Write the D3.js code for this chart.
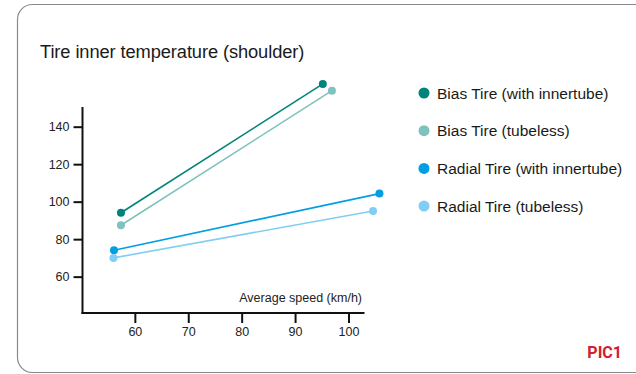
<!DOCTYPE html>
<html>
<head>
<meta charset="utf-8">
<script src="https://cdn.jsdelivr.net/npm/d3@7"></script>
<style>
  body { margin: 0; background: #fff; }
  svg { display: block; font-family: "Liberation Sans", Arial, sans-serif; }
</style>
</head>
<body>
<div id="chart"></div>
<script>

// series names and colours
var seriesNames = ["Bias Tire (with innertube)", "Bias Tire (tubeless)", "Radial Tire (with innertube)", "Radial Tire (tubeless)"]
var seriesColors = ["#00837a", "#80c2bd", "#009fe3", "#80cef3"]

// speed (km/h) at the two measured points, per series
var speedValues = [
    [57.4, 95.2],
    [57.4, 96.9],
    [56.1, 105.8],
    [56.0, 104.6]
]
// inner temperature at the same points
var tempValues = [
    [94.1, 162.8],
    [87.4, 159.2],
    [74.1, 104.3],
    [70.0, 95.0]
]

var xTicks = [60, 70, 80, 90, 100]
var yTicks = [60, 80, 100, 120, 140]

var W = 636, H = 374

var svg = d3.select("#chart")
    .append("svg")
    .attr("width", W)
    .attr("height", H)

// card frame
svg.append("rect")
    .attr("x", 17.5)
    .attr("y", 4.5)
    .attr("width", 660)
    .attr("height", 368)
    .attr("rx", 15)
    .attr("fill", "none")
    .attr("stroke", "#8a8a8a")
    .attr("stroke-width", 1.2)

svg.append("text")
    .attr("x", 40)
    .attr("y", 58)
    .attr("font-size", 18.3)
    .attr("letter-spacing", -0.1)
    .attr("fill", "#1a1a1a")
    .text("Tire inner temperature (shoulder)")

var plotLeft = 82.5, plotRight = 364.5, plotTop = 107, plotBottom = 313

var x = d3.scaleLinear()
    .domain([50.2, 103])
    .range([plotLeft, plotRight])

var y = d3.scaleLinear()
    .domain([40.6, 150.5])
    .range([plotBottom, plotTop])

var xAxis = d3.axisBottom(x)
    .tickValues(xTicks)
    .tickSize(10)
    .tickSizeOuter(0)
    .tickPadding(4)

var yAxis = d3.axisLeft(y)
    .tickValues(yTicks)
    .tickSize(9)
    .tickSizeOuter(0)
    .tickPadding(4)

var gx = svg.append("g")
    .attr("transform", "translate(0," + plotBottom + ")")
    .call(xAxis)

var gy = svg.append("g")
    .attr("transform", "translate(" + plotLeft + ",0)")
    .call(yAxis)

svg.selectAll(".domain, .tick line")
    .attr("stroke", "#111")
    .attr("stroke-width", 2)

svg.selectAll(".tick text")
    .attr("font-family", "Liberation Sans, Arial, sans-serif")
    .attr("font-size", 12.5)
    .attr("fill", "#222")

gx.select(".domain").attr("d", "M" + (plotLeft - 1) + ",0H" + plotRight)
gy.select(".domain").attr("d", "M0," + plotTop + "V" + (plotBottom + 1))

svg.append("text")
    .attr("x", 362)
    .attr("y", 302)
    .attr("text-anchor", "end")
    .attr("font-size", 12.5)
    .attr("fill", "#222")
    .text("Average speed (km/h)")

// lines + points
var line = d3.line()
    .x(function (d) { return x(d[0]) })
    .y(function (d) { return y(d[1]) })

var series = seriesNames.map(function (name, i) {
    return {
        name: name,
        color: seriesColors[i],
        pts: speedValues[i].map(function (s, j) { return [s, tempValues[i][j]] })
    }
})

var g = svg.selectAll(".series")
    .data(series)
    .enter().append("g")
    .attr("class", "series")

g.append("path")
    .attr("d", function (d) { return line(d.pts) })
    .attr("fill", "none")
    .attr("stroke", function (d) { return d.color })
    .attr("stroke-width", 1.6)

g.selectAll("circle")
    .data(function (d) { return d.pts.map(function (p) { return { p: p, color: d.color } }) })
    .enter().append("circle")
    .attr("cx", function (d) { return x(d.p[0]) })
    .attr("cy", function (d) { return y(d.p[1]) })
    .attr("r", 4)
    .attr("fill", function (d) { return d.color })

// legend
var legend = svg.selectAll(".legend")
    .data(series)
    .enter().append("g")
    .attr("class", "legend")
    .attr("transform", function (d, i) { return "translate(424," + (93 + i * 37.7) + ")" })

legend.append("circle")
    .attr("r", 5.5)
    .attr("fill", function (d) { return d.color })

legend.append("text")
    .attr("x", 13)
    .attr("dy", "0.36em")
    .attr("font-size", 15.5)
    .attr("fill", "#1a1a1a")
    .text(function (d) { return d.name })

svg.append("text")
    .attr("x", 622)
    .attr("y", 358)
    .attr("text-anchor", "end")
    .attr("font-family", "Liberation Sans Narrow, Roboto, sans-serif")
    .attr("font-weight", "bold")
    .attr("font-size", 16)
    .attr("fill", "#d0202e")
    .text("PIC1")

</script>
</body>
</html>
